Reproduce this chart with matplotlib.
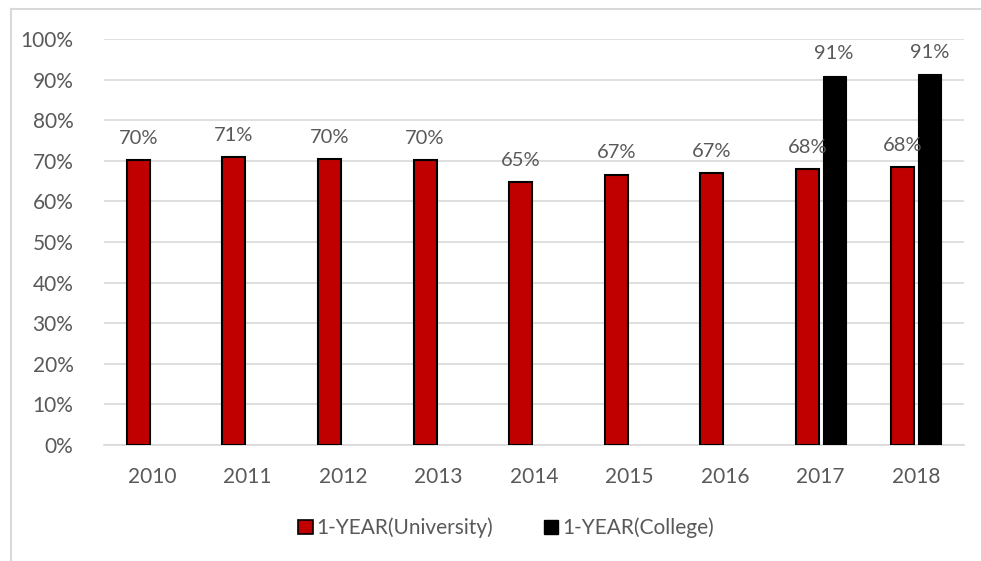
import numpy as np
import matplotlib.pyplot as plt
from matplotlib.lines import Line2D
from matplotlib.patches import Patch

plt.rcParams['font.family'] = ['Lato', 'DejaVu Sans']

years = ["2010", "2011", "2012", "2013", "2014", "2015", "2016", "2017", "2018"]
university = [70.2, 70.9, 70.4, 70.1, 64.8, 66.6, 66.9, 68.0, 68.4]
college = [np.nan, np.nan, np.nan, np.nan, np.nan, np.nan, np.nan, 91.0, 91.3]
uni_labels = ["70%", "71%", "70%", "70%", "65%", "67%", "67%", "68%", "68%"]
col_labels = ["", "", "", "", "", "", "", "91%", "91%"]

text_color = "#595959"
grid_color = "#d9d9d9"

fig = plt.figure(figsize=(9.81, 5.61), dpi=100)
ax = fig.add_axes([104 / 981, 1 - 445 / 561, 860 / 981, (445 - 39) / 561])

x = np.arange(len(years))
w = 0.24
off = 0.14
ax.bar(x - off, university, w, color="#C00000", edgecolor="black", linewidth=1.5, zorder=3)
ax.bar(x + off, college, w, color="black", edgecolor="black", linewidth=0.8, zorder=3)

for xi, v, lab in zip(x, university, uni_labels):
    ax.text(xi - off, v + 3.3, lab, ha="center", va="bottom", fontsize=14.5, color=text_color)
for xi, v, lab in zip(x, college, col_labels):
    if lab:
        ax.text(xi + off, v + 3.3, lab, ha="center", va="bottom", fontsize=14.5, color=text_color)

ax.set_xlim(-0.5, len(years) - 0.5)
ax.set_ylim(0, 100)
ax.set_yticks(np.arange(0, 101, 10))
ax.set_yticklabels([f"{t}%" for t in range(0, 101, 10)])
ax.set_xticks(x)
ax.set_xticklabels(years)
ax.yaxis.grid(True, color=grid_color, linewidth=1.2, zorder=0)
ax.set_axisbelow(True)
for s in ["top", "right", "left"]:
    ax.spines[s].set_visible(False)
ax.spines["bottom"].set_color(grid_color)
ax.spines["bottom"].set_linewidth(1.2)
ax.tick_params(axis="both", length=0, labelsize=15, colors=text_color)
ax.tick_params(axis="x", pad=16)
ax.tick_params(axis="y", pad=22)

handles = [Patch(facecolor="#C00000", edgecolor="black", linewidth=1.2, label="1-YEAR(University)"),
           Patch(facecolor="black", edgecolor="black", label="1-YEAR(College)")]
leg = fig.legend(handles=handles, loc="center", bbox_to_anchor=(506 / 981, 1 - 528 / 561),
                 ncol=2, frameon=False, fontsize=15, handlelength=0.7, handleheight=0.7,
                 handletextpad=0.2, columnspacing=2.4)
for t in leg.get_texts():
    t.set_color(text_color)

# chart border (left and top edges visible)
fig.add_artist(Line2D([11 / 981, 11 / 981], [0, 1 - 9 / 561], color=grid_color, linewidth=1.5))
fig.add_artist(Line2D([11 / 981, 1], [1 - 9 / 561, 1 - 9 / 561], color=grid_color, linewidth=1.5))

fig.savefig("out.png", dpi=100)
